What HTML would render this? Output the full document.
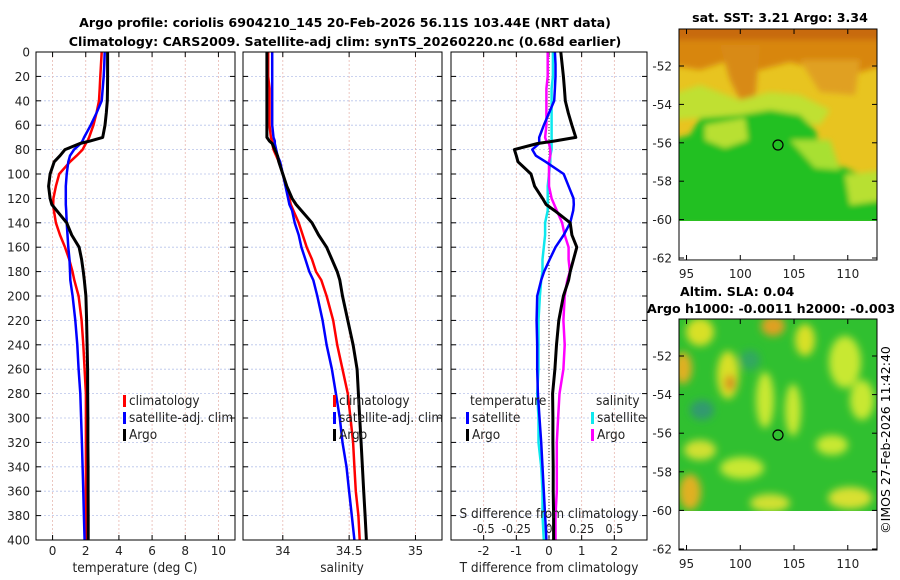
<!DOCTYPE html>
<html><head><meta charset="utf-8"><style>
html,body{margin:0;padding:0;background:#fff}
svg{display:block;font-family:"DejaVu Sans","Liberation Sans",sans-serif}
.cond{font-family:"DejaVu Sans Condensed","DejaVu Sans","Liberation Sans",sans-serif;font-stretch:condensed}
</style></head><body>
<svg id="fig" width="900" height="580" viewBox="0 0 900 580">
<defs>
<filter id="bl1" x="-10%" y="-10%" width="120%" height="120%"><feGaussianBlur stdDeviation="3"/></filter>
<filter id="bl2" x="-10%" y="-10%" width="120%" height="120%"><feGaussianBlur stdDeviation="4"/></filter>
<clipPath id="c1"><rect x="679" y="29" width="198" height="192"/></clipPath>
<clipPath id="c2"><rect x="679" y="319" width="198" height="192"/></clipPath>
<clipPath id="cp1"><rect x="36" y="52" width="199" height="488"/></clipPath>
<clipPath id="cp2"><rect x="243" y="52" width="199" height="488"/></clipPath>
<clipPath id="cp3"><rect x="451" y="52" width="196" height="488"/></clipPath>
</defs>
<g font-weight="bold" font-size="12.6" text-anchor="middle" fill="#000">
<text x="345" y="27">Argo profile: coriolis 6904210_145 20-Feb-2026 56.11S 103.44E (NRT data)</text>
<text x="345" y="46">Climatology: CARS2009. Satellite-adj clim: synTS_20260220.nc (0.68d earlier)</text>
<text x="780" y="22">sat. SST: 3.21 Argo: 3.34</text>
<text x="680" y="296" text-anchor="start">Altim. SLA: 0.04</text>
<text x="647" y="313" text-anchor="start">Argo h1000: -0.0011 h2000: -0.003</text>
</g>
<text transform="translate(890,440) rotate(-90)" text-anchor="middle" font-size="12.5">©IMOS 27-Feb-2026 11:42:40</text>

<!-- SST map -->
<g clip-path="url(#c1)">
<rect x="679" y="29" width="198" height="192" fill="#e8c420"/>
<g filter="url(#bl1)">
<rect x="670" y="20" width="215" height="30" fill="#c86a10"/>
<polygon points="670,40 885,40 885,65 850,75 820,70 790,62 760,70 730,60 700,70 670,65" fill="#d8860e"/>
<polygon points="720,45 760,45 755,100 740,100 730,80" fill="#d88a18"/>
<polygon points="800,60 860,60 855,95 820,92" fill="#e0a020"/>
<polygon points="670,95 700,85 740,100 770,92 800,95 830,110 820,125 780,120 740,125 700,118 670,120" fill="#c0e030"/>
<polygon points="670,140 690,135 700,118 740,115 770,110 800,115 815,130 825,160 850,170 885,185 885,225 670,225" fill="#22c022"/>
<polygon points="705,125 745,118 748,140 725,148 705,140" fill="#b8e030"/>
<polygon points="790,140 830,140 840,170 815,168" fill="#a8e030"/>
<polygon points="845,175 885,170 885,200 850,205" fill="#b8e030"/>
</g>
</g>
<rect x="679" y="29" width="198" height="231" fill="none" stroke="#000" stroke-width="1"/>
<circle cx="778" cy="145" r="5" fill="none" stroke="#000" stroke-width="1.2"/>

<!-- SLA map -->
<g clip-path="url(#c2)">
<rect x="679" y="319" width="198" height="192" fill="#30c030"/>
<g filter="url(#bl2)">
<ellipse cx="700" cy="332" rx="14" ry="14" fill="#d8e028"/>
<ellipse cx="773" cy="326" rx="12" ry="10" fill="#e0a020"/>
<ellipse cx="805" cy="340" rx="10" ry="16" fill="#d8e028"/>
<ellipse cx="683" cy="368" rx="9" ry="16" fill="#e0b020"/>
<ellipse cx="728" cy="375" rx="11" ry="24" fill="#d8e028"/>
<ellipse cx="730" cy="383" rx="5" ry="8" fill="#d88820"/>
<ellipse cx="702" cy="410" rx="12" ry="10" fill="#309a70"/>
<ellipse cx="750" cy="360" rx="10" ry="10" fill="#30a860"/>
<ellipse cx="765" cy="400" rx="9" ry="28" fill="#c8e830"/>
<ellipse cx="793" cy="410" rx="8" ry="26" fill="#c8e830"/>
<ellipse cx="845" cy="362" rx="16" ry="26" fill="#c8e830"/>
<ellipse cx="862" cy="400" rx="12" ry="20" fill="#c8e830"/>
<ellipse cx="700" cy="450" rx="16" ry="10" fill="#d0e030"/>
<ellipse cx="742" cy="468" rx="22" ry="11" fill="#c8e830"/>
<ellipse cx="832" cy="445" rx="16" ry="10" fill="#c8e830"/>
<ellipse cx="690" cy="492" rx="11" ry="18" fill="#e0b020"/>
<ellipse cx="770" cy="503" rx="20" ry="9" fill="#d0e030"/>
<ellipse cx="850" cy="498" rx="22" ry="11" fill="#d8e030"/>
</g>
</g>
<rect x="679" y="319" width="198" height="231" fill="none" stroke="#000" stroke-width="1"/>
<circle cx="778" cy="435" r="5" fill="none" stroke="#000" stroke-width="1.2"/>

<g id="dyn"></g>
</svg>
<script>
// depth levels (m)
const depths = [0,10,20,30,40,50,60,70,73,75,80,85,90,100,110,120,125,130,140,150,160,170,180,187,200,220,240,260,280,300,320,340,360,380,400];
// temperature (deg C)
const tempClim = [2.96,2.92,2.88,2.84,2.80,2.65,2.46,2.2,2.1,2.0,1.81,1.45,1.05,0.4,0.2,0.05,0.04,0.08,0.2,0.45,0.75,1.0,1.2,1.31,1.57,1.75,1.85,1.93,2.01,2.01,2.01,2.01,2.01,2.01,2.01];
const tempSat  = [3.14,3.12,3.08,3.02,2.96,2.65,2.3,1.9,1.8,1.7,1.3,1.05,0.95,0.85,0.8,0.8,0.8,0.82,0.85,0.9,0.95,1.02,1.05,1.07,1.21,1.37,1.49,1.57,1.67,1.72,1.77,1.81,1.85,1.89,1.93];
const tempArgo = [3.32,3.32,3.32,3.31,3.3,3.24,3.16,3.02,2.25,1.65,0.75,0.45,0.1,-0.15,-0.24,-0.15,-0.05,0.25,0.85,1.15,1.6,1.75,1.85,1.91,2.01,2.05,2.08,2.11,2.12,2.13,2.13,2.14,2.14,2.15,2.15];
// salinity
const salClim = [33.89,33.89,33.89,33.9,33.9,33.9,33.9,33.91,33.92,33.92,33.93,33.95,33.97,34.0,34.03,34.05,34.06,34.08,34.12,34.15,34.18,34.22,34.25,34.29,34.33,34.38,34.41,34.45,34.49,34.51,34.53,34.54,34.55,34.57,34.58];
const salSat  = [33.92,33.92,33.92,33.92,33.92,33.92,33.92,33.93,33.94,33.94,33.95,33.96,33.98,34.0,34.02,34.04,34.05,34.07,34.09,34.12,34.14,34.17,34.2,34.23,34.26,34.30,34.33,34.37,34.40,34.43,34.45,34.48,34.50,34.52,34.54];
const salArgo = [33.88,33.88,33.88,33.88,33.88,33.88,33.88,33.88,33.9,33.92,33.94,33.96,33.97,34.0,34.03,34.07,34.1,34.14,34.22,34.27,34.33,34.37,34.41,34.43,34.45,34.49,34.53,34.56,34.57,34.58,34.59,34.60,34.61,34.62,34.63];
// ticks
const depthTicks = [0,20,40,60,80,100,120,140,160,180,200,220,240,260,280,300,320,340,360,380,400];
const tempTicks = [0,2,4,6,8,10];
const salTicks = [34,34.5,35];
const salTickLabels = ["34","34.5","35"];
const tdiffTicks = [-2,-1,0,1,2];
const sdiffTicks = [-0.5,-0.25,0,0.25,0.5];
const mapLonTicks = [95,100,105,110];
const sstLatTicks = [-52,-54,-56,-58,-60,-62];
const slaLatTicks = [-52,-54,-56,-58,-60,-62];

const NS='http://www.w3.org/2000/svg';
const dyn=document.getElementById('dyn');
function el(tag,attrs,parent,txt){const e=document.createElementNS(NS,tag);for(const k in attrs)e.setAttribute(k,attrs[k]);if(txt!==undefined)e.textContent=txt;(parent||dyn).appendChild(e);return e;}
const Y0=52,Y1=540;
const yD=d=>Y0+(d/400)*(Y1-Y0);
function lin(d0,d1,r0,r1){return v=>r0+(v-d0)/(d1-d0)*(r1-r0);}
const panels=[
 {name:'temperature-panel',x0:36,x1:235,clip:'cp1'},
 {name:'salinity-panel',x0:243,x1:442,clip:'cp2'},
 {name:'difference-panel',x0:451,x1:647,clip:'cp3'}];
const xT=lin(-1,11,36,235), xS=lin(33.7,35.2,243,442), xTD=lin(-3,3,451,647), xSD=lin(-0.75,0.75,451,647);

panels.forEach((p,i)=>{
 const g=el('g',{});
 
 
 depthTicks.forEach(d=>{
  if(d===0||d===400)return;
  const l=el('line',{x1:p.x0,x2:p.x1,y1:yD(d),y2:yD(d),stroke:'#b8c4ea','stroke-width':0.8,'stroke-dasharray':'2,2'},g);
  
  
  el('line',{x1:p.x0,x2:p.x0+5,y1:yD(d),y2:yD(d),stroke:'#000'},g);
  el('line',{x1:p.x1,x2:p.x1-5,y1:yD(d),y2:yD(d),stroke:'#000'},g);
 });
 p.g=g;
});
function xAxis(p,ticks,sc,labels,ly){
 ticks.forEach((t,k)=>{
  const x=sc(t);
  const l=el('line',{x1:x,x2:x,y1:Y0,y2:Y1,stroke:'#e8b8b0','stroke-width':0.8,'stroke-dasharray':'2,2'},p.g);
  
  
  el('line',{x1:x,x2:x,y1:Y1,y2:Y1-5,stroke:'#000'},p.g);
  el('line',{x1:x,x2:x,y1:Y0,y2:Y0+5,stroke:'#000'},p.g);
  const tx=el('text',{x:x,y:ly,'text-anchor':'middle','font-size':12,fill:'#222'},p.g,labels[k]);
  
  
 });
}
xAxis(panels[0],tempTicks,xT,tempTicks.map(String),555);
xAxis(panels[1],salTicks,xS,salTickLabels,555);
xAxis(panels[2],tdiffTicks,xTD,tdiffTicks.map(String),555);
sdiffTicks.forEach(t=>{
 const tx=el('text',{x:xSD(t),y:533,'text-anchor':'middle','font-size':12.5,fill:'#222','class':'cond'},panels[2].g,String(t));
 
 
});
depthTicks.forEach(d=>{
 const tx=el('text',{x:30,y:yD(d)+4.5,'text-anchor':'end','font-size':12,fill:'#222'},null,String(d));
 
 
});
const z=el('line',{x1:xTD(0),x2:xTD(0),y1:Y0,y2:Y1,stroke:'#333','stroke-width':1,'stroke-dasharray':'1,2'},panels[2].g);



function series(p,vals,sc,color,w,name){
 const pts=depths.map((d,k)=>sc(vals[k]).toFixed(1)+','+yD(d).toFixed(1)).join(' ');
 const pl=el('polyline',{points:pts,fill:'none',stroke:color,'stroke-width':w,'stroke-linejoin':'round','clip-path':'url(#'+p.clip+')'},p.g);
 
 
}
series(panels[0],tempClim,xT,'#f00',2.5,'temp-climatology-line');
series(panels[0],tempSat,xT,'#00f',2.5,'temp-satellite-line');
series(panels[0],tempArgo,xT,'#000',3,'temp-argo-line');
series(panels[1],salClim,xS,'#f00',2.5,'sal-climatology-line');
series(panels[1],salSat,xS,'#00f',2.5,'sal-satellite-line');
series(panels[1],salArgo,xS,'#000',3,'sal-argo-line');
const tdSat=tempSat.map((v,k)=>v-tempClim[k]), tdArgo=tempArgo.map((v,k)=>v-tempClim[k]);
const sdSat=salSat.map((v,k)=>v-salClim[k]), sdArgo=salArgo.map((v,k)=>v-salClim[k]);
series(panels[2],sdSat,xSD,'#0ee8ee',2.5,'sdiff-satellite-line');
series(panels[2],sdArgo,xSD,'#f0f',2.5,'sdiff-argo-line');
series(panels[2],tdSat,xTD,'#00f',2.5,'tdiff-satellite-line');
series(panels[2],tdArgo,xTD,'#000',3,'tdiff-argo-line');

panels.forEach(p=>{
 const r=el('rect',{x:p.x0,y:Y0,width:p.x1-p.x0,height:Y1-Y0,fill:'none',stroke:'#000','stroke-width':1},p.g);
 
 
});
[[135,'temperature (deg C)'],[342,'salinity'],[549,'T difference from climatology']].forEach(a=>{
 const t=el('text',{x:a[0],y:572,'text-anchor':'middle','font-size':13.5,fill:'#222','class':'cond'},null,a[1]);
 
 
});
const st=el('text',{x:549,y:518,'text-anchor':'middle','font-size':13.5,fill:'#222','class':'cond'},null,'S difference from climatology');



function legend(x,y,items){
 items.forEach((it,k)=>{
  const yy=y+k*17;
  const b=el('rect',{x:x,y:yy-10,width:3,height:12,fill:it[0]});
  
  
  const t=el('text',{x:x+6,y:yy,'font-size':13.5,fill:'#222','class':'cond'},null,it[1]);
  
  
 });
}
legend(123,405,[['#f00','climatology'],['#00f','satellite-adj. clim'],['#000','Argo']]);
legend(333,405,[['#f00','climatology'],['#00f','satellite-adj. clim'],['#000','Argo']]);
legend(466,422,[['#00f','satellite'],['#000','Argo']]);
legend(591,422,[['#0ee8ee','satellite'],['#f0f','Argo']]);
[[470,'temperature'],[596,'salinity']].forEach(a=>{
 const t=el('text',{x:a[0],y:405,'font-size':13.5,fill:'#222','class':'cond'},null,a[1]);
 
 
});

function mapAxes(top,latTicks,latY){
 mapLonTicks.forEach(lo=>{
  const x=679+(lo-94.3)*10.75;
  el('line',{x1:x,x2:x,y1:top+231,y2:top+226,stroke:'#000'});
  el('line',{x1:x,x2:x,y1:top,y2:top+5,stroke:'#000'});
  const t=el('text',{x:x,y:top+249,'text-anchor':'middle','font-size':12,fill:'#222'},null,String(lo));
  
  
 });
 latTicks.forEach(la=>{
  const y=latY(la);
  el('line',{x1:679,x2:684,y1:y,y2:y,stroke:'#000'});
  el('line',{x1:877,x2:872,y1:y,y2:y,stroke:'#000'});
  const t=el('text',{x:672,y:y+4.5,'text-anchor':'end','font-size':12,fill:'#222'},null,String(la));
  
  
 });
}
mapAxes(29,sstLatTicks,la=>66+(-52-la)*19.2);
mapAxes(319,slaLatTicks,la=>356+(-52-la)*19.3);
</script>
</body></html>
